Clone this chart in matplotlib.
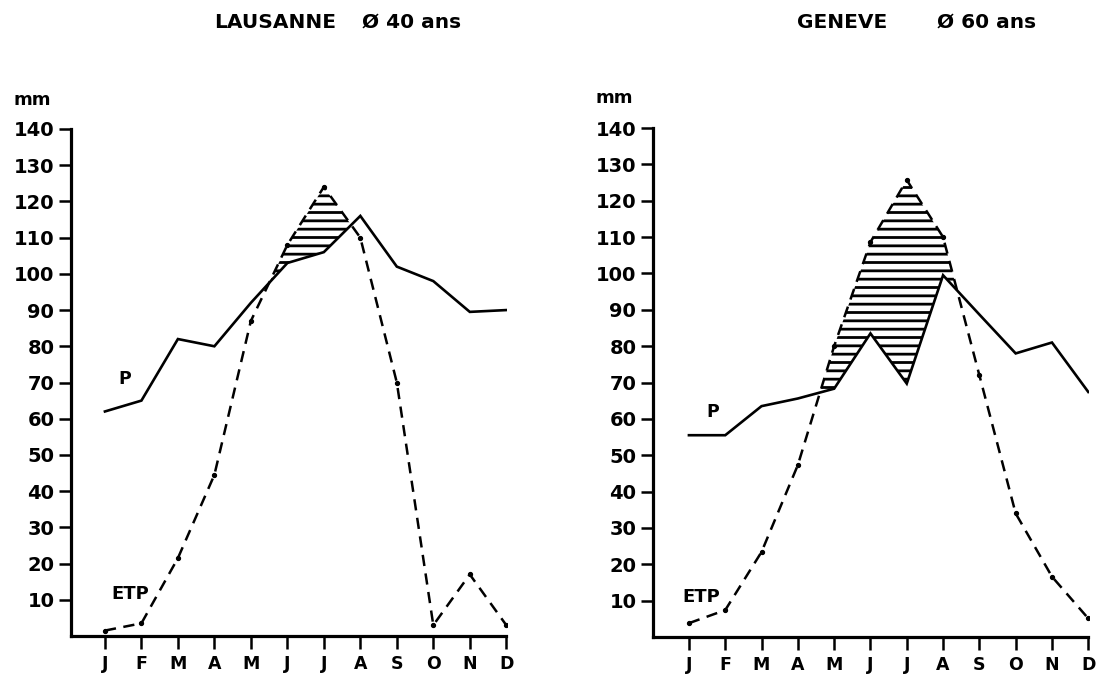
import numpy as np
import matplotlib
matplotlib.use("Agg")
import matplotlib.pyplot as plt

plt.rcParams['font.family'] = ['DejaVu Sans']
plt.rcParams['hatch.linewidth'] = 2.0

# months (French initials)
months = ['J', 'F', 'M', 'A', 'M', 'J', 'J', 'A', 'S', 'O', 'N', 'D']
y_ticks = [10, 20, 30, 40, 50, 60, 70, 80, 90, 100, 110, 120, 130, 140]

# Lausanne, mean over 40 years
lausanne_p = [62, 65, 82, 80, 92, 103, 106, 116, 102, 98, 89.5, 90]
lausanne_etp = [1.5, 3.5, 21.5, 44.5, 87, 108, 124, 110, 70, 3, 17, 3]

# Geneve, mean over 60 years
geneve_p = [55.5, 55.5, 63.5, 65.6, 68.3, 83.5, 69.7, 99.5, 88.7, 78, 81, 67.4]
geneve_etp = [3.8, 7.4, 23.4, 47.3, 80, 108.6, 125.7, 110, 72, 34, 16.6, 5.1]

x = np.arange(len(months))

fig = plt.figure(figsize=(10.99, 6.78), dpi=100)
W, H = 1099, 678


def draw_panel(rect, p, etp, xleft, p_lab, etp_lab):
    ax = fig.add_axes(rect)
    etp_a = np.array(etp, dtype=float)
    p_a = np.array(p, dtype=float)
    # deficit area (ETP above P), horizontal hatching
    ax.fill_between(x, p_a, etp_a, where=etp_a > p_a, interpolate=True,
                    facecolor='none', edgecolor='black', hatch='--', linewidth=0)
    ax.plot(x, p_a, color='black', lw=1.9, solid_joinstyle='miter')
    ax.plot(x, etp_a, color='black', lw=1.8, linestyle=(0, (4.5, 3)),
            marker='o', markersize=2.8)
    ax.set_xlim(xleft, 11.02)
    ax.set_ylim(0, 140)
    ax.set_xticks(x)
    ax.set_xticklabels(months, fontsize=12.5, fontweight='bold')
    ax.set_yticks(y_ticks)
    ax.set_yticklabels([str(v) for v in y_ticks], fontsize=14, fontweight='bold')
    for s in ['top', 'right']:
        ax.spines[s].set_visible(False)
    for s in ['left', 'bottom']:
        ax.spines[s].set_linewidth(2.3)
    ax.spines['bottom'].set_bounds(xleft, 11)
    ax.tick_params(axis='both', direction='out', length=9, width=1.8, pad=3)
    ax.tick_params(axis='x', pad=5)
    ax.text(p_lab[0], p_lab[1], 'P', fontsize=12.5, fontweight='bold',
            ha='center', va='center')
    ax.text(etp_lab[0], etp_lab[1], 'ETP', fontsize=13, fontweight='bold',
            ha='center', va='center')
    ax.text(-0.09, 1.058, 'mm', transform=ax.transAxes, fontsize=13,
            fontweight='bold', ha='center', va='center')
    return ax


draw_panel([71 / W, 1 - 636 / H, 436 / W, 507 / H], lausanne_p, lausanne_etp,
           -0.93, (0.55, 71), (0.7, 11.6))
draw_panel([653 / W, 1 - 637 / H, 436 / W, 509 / H], geneve_p, geneve_etp,
           -0.99, (0.66, 62), (0.35, 11))

fig.text(214 / W, 1 - 22 / H, 'LAUSANNE', fontsize=14.5, fontweight='bold',
         ha='left', va='center')
fig.text(362 / W, 1 - 22 / H, 'Ø 40 ans', fontsize=14.5, fontweight='bold',
         ha='left', va='center')
fig.text(797 / W, 1 - 22 / H, 'GENEVE', fontsize=14.5, fontweight='bold',
         ha='left', va='center')
fig.text(937 / W, 1 - 22 / H, 'Ø 60 ans', fontsize=14.5, fontweight='bold',
         ha='left', va='center')

fig.savefig('out.png', dpi=100)
